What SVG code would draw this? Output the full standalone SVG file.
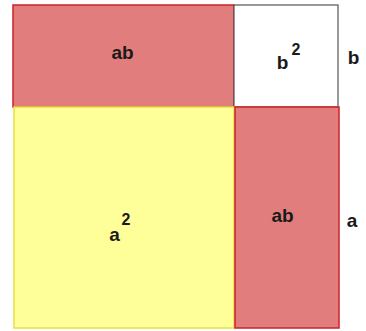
<svg xmlns="http://www.w3.org/2000/svg" width="366" height="331" viewBox="0 0 366 331">
<style>
text{font-family:"Liberation Sans",Arial,sans-serif;font-weight:bold;fill:#1a1a1a;font-size:19px;text-anchor:middle}
.sup{font-size:16px}
.red{fill:#E27D7E;stroke:#CC2229;stroke-width:1.5}
</style>
<rect width="366" height="331" fill="#fff"/>
<g id="ab-top">
<rect class="red" x="13" y="5" width="221" height="102"/>
<text x="122.5" y="58.5">ab</text>
</g>
<g id="b2">
<rect x="234" y="5" width="104" height="102" fill="#fff" stroke="#555" stroke-width="1.2"/>
<text x="282.5" y="69">b</text>
<text class="sup" x="296" y="55">2</text>
</g>
<g id="a2">
<rect x="14" y="107" width="220" height="221" fill="#FFFF99" stroke="#E6E04A" stroke-width="1.5"/>
<text x="114.5" y="241">a</text>
<text class="sup" x="126" y="225">2</text>
</g>
<g id="ab-right">
<rect class="red" x="235" y="107" width="104" height="221"/>
<text x="282.5" y="221.5">ab</text>
</g>
<g id="labels">
<text x="353.5" y="63.5">b</text>
<text x="352" y="226.5">a</text>
</g>
</svg>
